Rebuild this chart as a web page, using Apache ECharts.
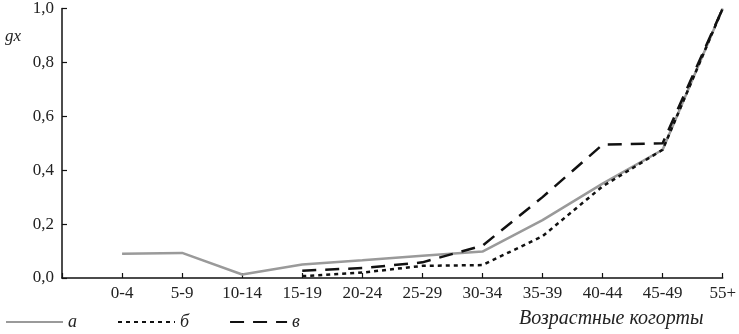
<!DOCTYPE html>
<html><head><meta charset="utf-8">
<script src="https://cdn.jsdelivr.net/npm/echarts@6/dist/echarts.min.js"></script>
<style>html,body{margin:0;padding:0;background:#fff}#c{width:739px;height:334px}</style>
</head><body><div id="c"></div>
<script>
const categories = ['', '0-4', '5-9', '10-14', '15-19', '20-24', '25-29', '30-34', '35-39', '40-44', '45-49', '55+'];
const seriesA = [null, 0.09, 0.093, 0.013, 0.05, 0.066, 0.083, 0.098, 0.215, 0.35, 0.476, 1.0];
const seriesB = [null, null, null, null, 0.007, 0.02, 0.045, 0.048, 0.155, 0.34, 0.476, 1.0];
const seriesV = [null, null, null, null, 0.027, 0.037, 0.058, 0.12, 0.30, 0.495, 0.5, 1.0];
const names = ['а', 'б', 'в'];
const yTicks = [0, 0.2, 0.4, 0.6, 0.8, 1.0];

const serif = '"Liberation Serif", "Times New Roman", serif';
const chart = echarts.init(document.getElementById('c'));
chart.setOption({
  animation: false,
  backgroundColor: '#fff',
  grid: { left: 62, right: 6, top: 6, bottom: 56, containLabel: false },
  legend: {
    left: 0, top: 308, itemWidth: 57, itemHeight: 14, itemGap: 40,
    data: names,
    itemStyle: { opacity: 0, borderWidth: 0 },
    textStyle: { fontFamily: serif, fontStyle: 'italic', fontSize: 18, color: '#222' }
  },
  xAxis: {
    type: 'category', data: categories, boundaryGap: false,
    axisLine: { lineStyle: { color: '#111', width: 1.5 } },
    axisTick: { inside: true, length: 5, lineStyle: { color: '#111', width: 1.2 } },
    axisLabel: { margin: 7, fontFamily: serif, fontSize: 17, color: '#222', interval: 0 }
  },
  yAxis: {
    type: 'value', min: 0, max: 1, interval: 0.2,
    splitLine: { show: false },
    axisLine: { show: true, lineStyle: { color: '#111', width: 1.5 } },
    axisTick: { show: true, inside: true, length: 5, lineStyle: { color: '#111', width: 1.2 } },
    axisLabel: { margin: 8, fontFamily: serif, fontSize: 17, color: '#222',
      formatter: v => v.toFixed(1).replace('.', ',') }
  },
  graphic: [{
    type: 'text', left: 519, top: 309,
    style: { text: 'Возрастные когорты', font: 'italic 20px "Liberation Serif", serif', fill: '#222' }
  }, {
    type: 'text', left: 5, top: 28,
    style: { text: 'gx', font: 'italic 17px "Liberation Serif", serif', fill: '#222' }
  }],
  series: [
    { name: names[0], type: 'line', data: seriesA, symbol: 'none', connectNulls: false,
      lineStyle: { color: '#9a9a9a', width: 2.5 }, itemStyle: { color: '#9a9a9a' }, z: 2 },
    { name: names[1], type: 'line', data: seriesB, symbol: 'none',
      lineStyle: { color: '#111', width: 2.5, type: [4, 4] }, itemStyle: { color: '#111' }, z: 3 },
    { name: names[2], type: 'line', data: seriesV, symbol: 'none',
      lineStyle: { color: '#111', width: 2.5, type: [14, 9] }, itemStyle: { color: '#111' }, z: 4 }
  ]
});
</script></body></html>
